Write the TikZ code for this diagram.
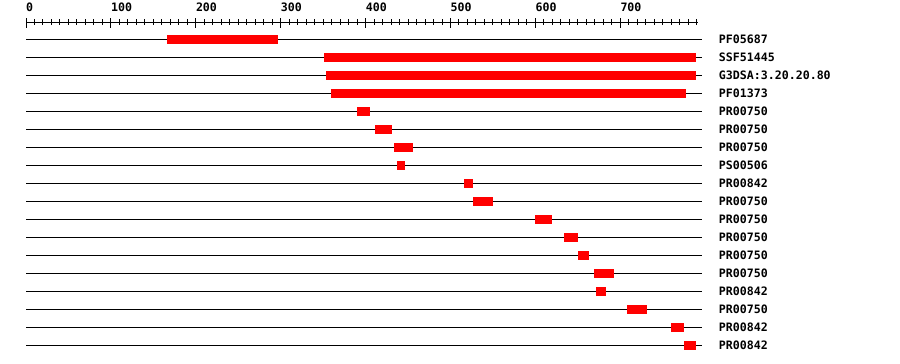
\documentclass[tikz,border=0pt]{standalone}
\usepackage{fontspec}
\setmonofont{DejaVu Sans Mono}
\usetikzlibrary{positioning}
\tikzset{font=\ttfamily\bfseries\fontsize{11.6}{12}\selectfont}

\begin{document}
\begin{tikzpicture}[x=1pt, y=-1pt]
	\useasboundingbox (0,0) rectangle (900,364);
	\tikzstyle{every node}=[inner sep=0pt]
	\tikzstyle{rule}=[line width=1pt]
	\tikzstyle{track}=[line width=1pt]
	\tikzstyle{hit}=[fill=red]
	\begin{scope}[xshift=26pt, x=0.849pt]
		% ruler
		\coordinate (r0) at (0, 22);
		\coordinate (r1) at (792, 22);
		\draw [rule] (r0) -- (r1);
		\foreach \t in {0,10,...,790}
			\draw [rule] (\t, 19) -- (\t, 25);
		\foreach \t in {0,100,...,700} {
			\draw [rule] (\t, 18) -- (\t, 28);
			\node [anchor=base west] (num\t) at (\t, 12) {\t};
		}

		% one row per hit
		\foreach \i/\name/\from/\to in {
			1/PF05687/166/297,
			2/SSF51445/351/789,
			3/G3DSA:3.20.20.80/353/789,
			4/PF01373/359/777,
			5/PR00750/390/405,
			6/PR00750/411/431,
			7/PR00750/433/456,
			8/PS00506/437/446,
			9/PR00842/516/526,
			10/PR00750/526/550,
			11/PR00750/600/620,
			12/PR00750/634/650,
			13/PR00750/650/663,
			14/PR00750/669/692,
			15/PR00842/671/683,
			16/PR00750/708/731,
			17/PR00842/760/775,
			18/PR00842/775/789} {
			\coordinate (s\i) at (0, {21+18*\i});
			\coordinate (e\i) at (796, {21+18*\i});
			\draw [track] (s\i) -- (e\i);
			\fill [hit] (\from, {16.5+18*\i}) rectangle (\to, {25.5+18*\i});
			\node [anchor=west] (lab\i) at (816, {21+18*\i}) {\name};
		}
	\end{scope}
\end{tikzpicture}
\end{document}
